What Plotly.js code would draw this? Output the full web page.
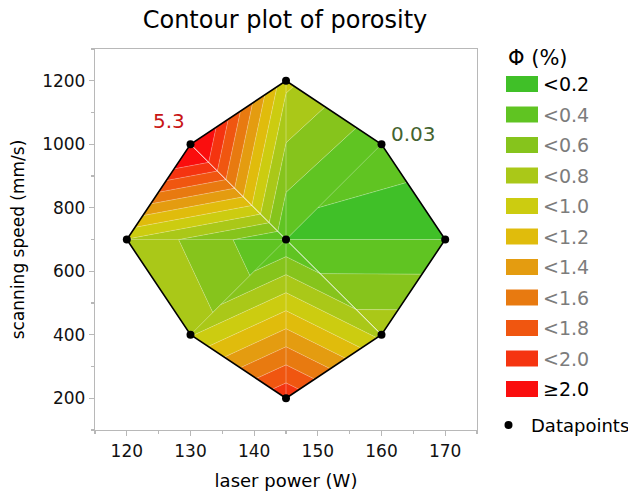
<!DOCTYPE html>
<html>
<head>
<meta charset="utf-8">
<script src="https://cdn.plot.ly/plotly-3.0.1.min.js"></script>
<style>
  html, body { margin: 0; padding: 0; background: #fff; }
  #chart { width: 628px; height: 494px; }
</style>
</head>
<body>
<div id="chart"></div>
<script>
// Design points (laser power in W, scanning speed in mm/s)
// 0:(145,200) 1:(130,400) 2:(160,400) 3:(120,700) 4:(145,700)
// 5:(170,700) 6:(130,1000) 7:(160,1000) 8:(145,1200)
const power = [145, 130, 160, 120, 145, 170, 130, 160, 145];
const speed = [200, 400, 400, 700, 700, 700, 1000, 1000, 1200];

// Order of the design points around the outer boundary of the design space
const hullOrder = [0, 1, 3, 6, 8, 7, 5, 2, 0];

// Interpolation mesh: triangles fanning out from the centre point (index 4)
const triA = [4, 4, 4, 4, 4, 4, 4, 4];
const triB = [0, 2, 5, 7, 8, 6, 3, 1];
const triC = [2, 5, 7, 8, 6, 3, 1, 0];
// Porosity (%) at the corners of each triangle (centre replicates differ)
const phiA = [0.21, 0.21, 0.18, 0.21, 0.21, 0.21, 0.205, 0.21];
const phiB = [1.97, 0.74, 0.14, 0.24, 0.85, 2.42, 0.79, 0.78];
const phiC = [0.74, 0.205, 0.24, 0.85, 2.42, 0.79, 0.72, 1.97];

// Mesh edges that render as bright seams
const seamFrom = [4, 4];
const seamTo = [6, 2];

// Annotated measurements
const labelPower = [130, 160];
const labelSpeed = [1000, 1000];
const labelPhi = [5.3, 0.03];
const labelColor = ['#c81414', '#44632f'];

// Contour levels and band colours (lowest band first)
const levels = [0.2, 0.4, 0.6, 0.8, 1.0, 1.2, 1.4, 1.6, 1.8, 2.0];
const bandColors = ['#40c028', '#60c422', '#86c41c', '#aac818', '#cccc10',
                    '#e0bc0c', '#e49c10', '#e87a10', '#f05610', '#f53410', '#fa0e0e'];

// ---- band polygons by clipping each linear triangle ----
function clip(poly, level, keepAbove) {
  const out = [];
  const inside = p => keepAbove ? p.v >= level : p.v <= level;
  for (let i = 0; i < poly.length; i++) {
    const a = poly[i], b = poly[(i + 1) % poly.length];
    const ia = inside(a), ib = inside(b);
    if (ia) out.push(a);
    if (ia !== ib) {
      const t = (level - a.v) / (b.v - a.v);
      out.push({ x: a.x + t * (b.x - a.x), y: a.y + t * (b.y - a.y), v: level });
    }
  }
  return out;
}

const bandX = bandColors.map(() => []);
const bandY = bandColors.map(() => []);
for (let k = 0; k < triA.length; k++) {
  const tri = [
    { x: power[triA[k]], y: speed[triA[k]], v: phiA[k] },
    { x: power[triB[k]], y: speed[triB[k]], v: phiB[k] },
    { x: power[triC[k]], y: speed[triC[k]], v: phiC[k] }
  ];
  for (let b = 0; b < bandColors.length; b++) {
    let poly = tri;
    if (b > 0) poly = clip(poly, levels[b - 1], true);
    if (b < levels.length && poly.length) poly = clip(poly, levels[b], false);
    if (poly.length < 3) continue;
    poly.forEach(p => { bandX[b].push(p.x); bandY[b].push(p.y); });
    bandX[b].push(poly[0].x); bandY[b].push(poly[0].y);
    bandX[b].push(null); bandY[b].push(null);
  }
}

const traces = bandColors.map((c, b) => ({
  type: 'scatter', mode: 'lines', x: bandX[b], y: bandY[b],
  fill: 'toself', fillcolor: c, line: { width: 0.6, color: 'rgba(255,255,255,0.28)' },
  hoverinfo: 'skip', showlegend: false
}));

// bright seams along two of the mesh edges
const seamX = [], seamY = [];
seamFrom.forEach((a, i) => {
  seamX.push(power[a], power[seamTo[i]], null);
  seamY.push(speed[a], speed[seamTo[i]], null);
});
traces.push({
  type: 'scatter', mode: 'lines', x: seamX, y: seamY,
  line: { color: 'rgba(255,255,255,0.85)', width: 1 }, hoverinfo: 'skip', showlegend: false
});

traces.push({
  type: 'scatter', mode: 'lines',
  x: hullOrder.map(i => power[i]), y: hullOrder.map(i => speed[i]),
  line: { color: '#000', width: 1.6 }, hoverinfo: 'skip', showlegend: false
});
traces.push({
  type: 'scatter', mode: 'markers', x: power, y: speed,
  marker: { color: '#000', size: 8 }, showlegend: false
});

// ---- layout ----
const W = 628, H = 494;
const M = { l: 95, r: 151, t: 49, b: 64 };
const px2x = px => (px - M.l) / (W - M.l - M.r);
const py2y = py => 1 - (py - M.t) / (H - M.t - M.b);
const font = 'DejaVu Sans, sans-serif';

const annotations = labelPhi.map((v, i) => ({
  x: labelPower[i], y: labelSpeed[i], xref: 'x', yref: 'y',
  text: String(v), showarrow: false,
  xshift: i === 0 ? -22 : 32, yshift: i === 0 ? 23 : 10,
  font: { family: font, size: 20, color: labelColor[i] }
}));

const shapes = [];
const legTop = 84, legStep = 30.5;
annotations.push({
  x: px2x(506), y: py2y(57.5), xref: 'paper', yref: 'paper',
  xanchor: 'left', yanchor: 'middle', text: 'Φ (%)', showarrow: false,
  font: { family: font, size: 21, color: '#000' }
});
bandColors.forEach((c, b) => {
  const cy = legTop + b * legStep;
  shapes.push({
    type: 'rect', xref: 'paper', yref: 'paper', line: { width: 0 }, fillcolor: c,
    x0: px2x(506), x1: px2x(538), y0: py2y(cy - 8), y1: py2y(cy + 8)
  });
  const txt = b < levels.length ? '<' + levels[b].toFixed(1) : '≥' + levels[levels.length - 1].toFixed(1);
  const edge = b === 0 || b === bandColors.length - 1;
  annotations.push({
    x: px2x(541), y: py2y(cy), xref: 'paper', yref: 'paper',
    xanchor: 'left', yanchor: 'middle', text: txt, showarrow: false,
    font: { family: font, size: 19, color: edge ? '#000' : '#7c7c7c' }
  });
});
shapes.push({
  type: 'circle', xref: 'paper', yref: 'paper', fillcolor: '#000', line: { width: 0 },
  x0: px2x(504.5), x1: px2x(512.5), y0: py2y(429), y1: py2y(421)
});
annotations.push({
  x: px2x(529), y: py2y(425), xref: 'paper', yref: 'paper',
  xanchor: 'left', yanchor: 'middle', text: 'Datapoints', showarrow: false,
  font: { family: font, size: 18, color: '#000' }
});

const axisCommon = {
  showgrid: false, zeroline: false, showline: true, mirror: true,
  linecolor: '#b8b8b8', linewidth: 1.2,
  ticks: 'outside', ticklen: 5, tickcolor: '#b8b8b8', tickwidth: 1.2,
  tickfont: { family: font, size: 17, color: '#111' }
};

const layout = {
  width: W, height: H, margin: M,
  paper_bgcolor: '#fff', plot_bgcolor: '#fff',
  title: { text: 'Contour plot of porosity', x: 285 / W,
           xanchor: 'center', y: 1 - 20 / H, yanchor: 'middle',
           font: { family: font, size: 24, color: '#000' } },
  xaxis: Object.assign({}, axisCommon, {
    range: [115, 175], tick0: 120, dtick: 10,
    minor: { ticks: 'outside', ticklen: 3, dtick: 5, tickcolor: '#b8b8b8' },
    title: { text: 'laser power (W)', standoff: 14, font: { family: font, size: 18, color: '#000' } }
  }),
  yaxis: Object.assign({}, axisCommon, {
    range: [100, 1300], tick0: 200, dtick: 200,
    minor: { ticks: 'outside', ticklen: 3, dtick: 100, tickcolor: '#b8b8b8' },
    title: { text: 'scanning speed (mm/s)', standoff: 13, font: { family: font, size: 17, color: '#000' } }
  }),
  shapes: shapes,
  annotations: annotations
};

Plotly.newPlot('chart', traces, layout, { staticPlot: true, displayModeBar: false });
</script>
</body>
</html>
